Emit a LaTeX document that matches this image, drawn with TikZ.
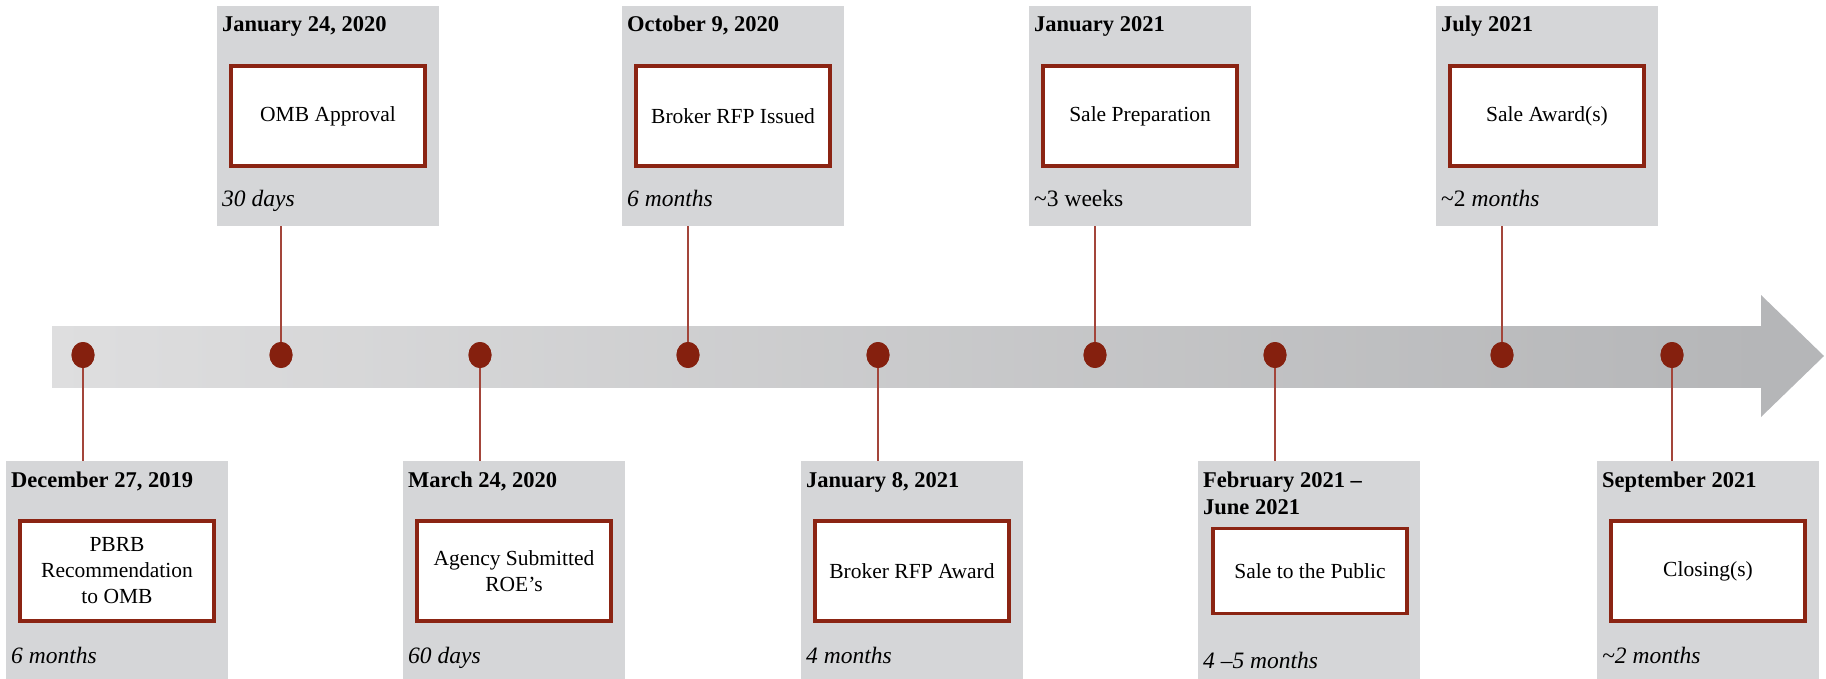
\documentclass[tikz,border=0pt]{standalone}
\usepackage{fontspec}
\setmainfont{Liberation Serif}
\usetikzlibrary{shapes.geometric}
\definecolor{boxgrey}{HTML}{D5D6D8}
\definecolor{darkred}{HTML}{8B2413}
\definecolor{dotred}{HTML}{85200E}
\definecolor{linered}{HTML}{A3453A}
\definecolor{barL}{HTML}{DEDEDF}
\definecolor{barR}{HTML}{B5B6B8}
\tikzset{
  greybox/.style={fill=boxgrey, draw=none, anchor=north west, minimum width=222pt, inner sep=0pt},
  inbox/.style={fill=white, draw=darkred, line width=3.5pt, minimum width=194pt, align=center, inner sep=0pt,
     font=\fontsize{21.5}{26}\selectfont},
  datetxt/.style={anchor=base west, inner sep=0pt, align=left, font=\fontsize{22.5}{27}\selectfont\bfseries},
  durtxt/.style={anchor=base west, inner sep=0pt, font=\fontsize{23.5}{27}\selectfont\itshape},
  tdot/.style={ellipse, fill=dotred, draw=none, minimum width=23pt, minimum height=26pt, inner sep=0pt},
  conn/.style={draw=linered, line width=1.5pt}
}
\begin{document}
\begin{tikzpicture}[x=1pt,y=-1pt]
\useasboundingbox (0,0) rectangle (1826,679);
% bar
\shade[left color=barL, right color=barR] (52,326) rectangle (1762,387);
\fill[barR] (1761,295) -- (1824,356) -- (1761,417) -- cycle;
% dots
\foreach \n/\x in {1/83,2/281,3/480,4/688,5/878,6/1095,7/1275,8/1502,9/1672}
  \node[tdot] (d\n) at (\x,355) {};
% top boxes
\foreach \n/\x/\dt/\lab/\dur in {
  2/217/{January 24, 2020}/{OMB Approval}/{30 days},
  4/622/{October 9, 2020}/{Broker RFP Issued}/{6 months},
  6/1029/{January 2021}/{Sale Preparation}/{\upshape\textasciitilde3 weeks},
  8/1436/{July 2021}/{Sale Award(s)}/{{\upshape\textasciitilde2} months}}{
  \node[greybox, minimum height=220pt] (b\n) at (\x,6) {};
  \node[datetxt] (t\n) at (\x+5,32) {\dt};
  \node[inbox, minimum height=100pt] (i\n) at (\x+111,116) {\lab};
  \node[durtxt] (u\n) at (\x+5,207) {\dur};
  \draw[conn] (b\n.south -| d\n) -- (d\n.center);
}
% bottom boxes
\foreach \n/\x/\dt/\lab/\dur in {
  1/6/{December 27, 2019}/{PBRB\\Recommendation\\to OMB}/{6 months},
  3/403/{March 24, 2020}/{Agency Submitted\\ROE’s}/{60 days},
  5/801/{January 8, 2021}/{Broker RFP Award}/{4 months},
  9/1597/{September 2021}/{Closing(s)}/{\textasciitilde2 months}}{
  \node[greybox, minimum height=220pt] (b\n) at (\x,461) {};
  \node[datetxt] (t\n) at (\x+5,487) {\dt};
  \node[inbox, minimum height=100pt] (i\n) at (\x+111,571) {\lab};
  \node[durtxt] (u\n) at (\x+5,663) {\dur};
  \draw[conn] (d\n.center) -- (d\n |- b\n.north);
}
% February box
\node[greybox, minimum height=220pt] (b7) at (1198,461) {};
\node[datetxt] (t7) at (1203,487) {\vtop{\hbox{February 2021 –}\hbox{June 2021}}};
\node[inbox, minimum height=85pt] (i7) at (1310,571) {Sale to the Public};
\node[durtxt] (u7) at (1203,668) {4 –5 months};
\draw[conn] (d7.center) -- (d7 |- b7.north);
% redraw dots above connectors
\foreach \n/\x in {1/83,2/281,3/480,4/688,5/878,6/1095,7/1275,8/1502,9/1672}
  \node[tdot] at (\x,355) {};
\end{tikzpicture}
\end{document}
